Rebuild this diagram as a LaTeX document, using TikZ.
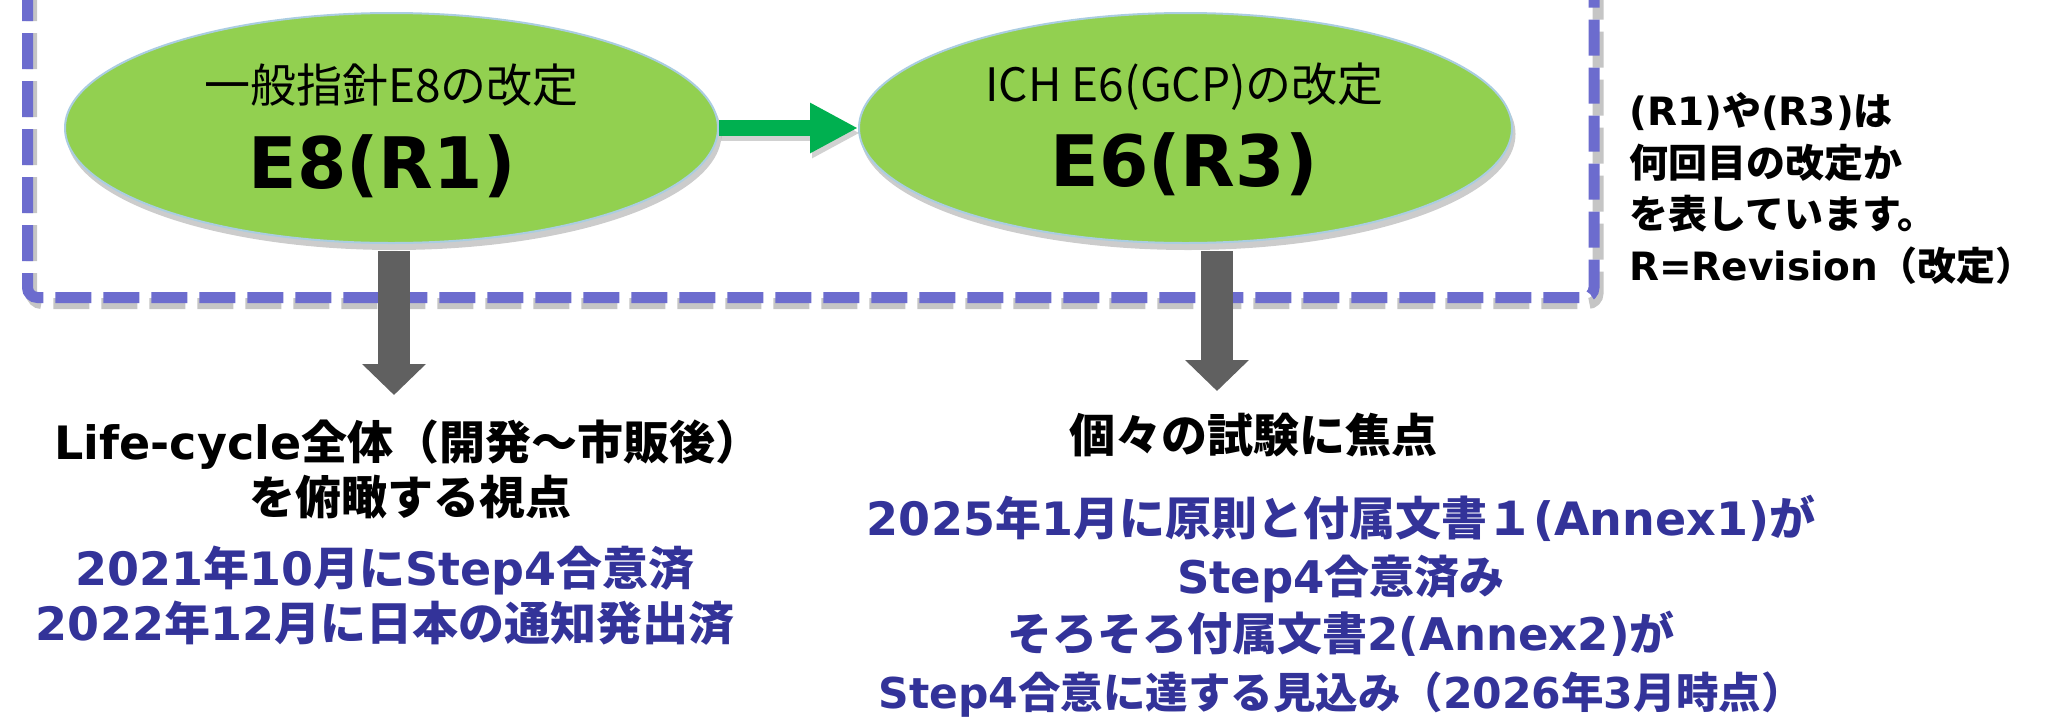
\documentclass[tikz,border=0pt]{standalone}
\usepackage{fontspec}
\setmainfont{Noto Sans CJK JP}
\newfontfamily\dvs{DejaVu Sans}
\usetikzlibrary{shapes.geometric,arrows.meta,calc}
\definecolor{boxblue}{RGB}{108,108,206}
\definecolor{elgreen}{RGB}{146,208,80}
\definecolor{elline}{RGB}{170,205,225}
\definecolor{arrgreen}{RGB}{0,176,80}
\definecolor{arrgray}{RGB}{96,96,96}
\definecolor{txtblue}{RGB}{51,51,153}
\begin{document}
\begin{tikzpicture}[x=1pt,y=-1pt,
  ovalbox/.style={ellipse, fill=elgreen, draw=elline, line width=2pt,
    minimum width=653pt, minimum height=230pt, inner sep=0pt},
  ovalshadow/.style={ellipse, fill=black, opacity=.2, draw=none,
    minimum width=655pt, minimum height=232pt, inner sep=0pt},
  frame/.style={line width=11pt, dash pattern=on 36pt off 12pt, rounded corners=10pt},
  lbl/.style={anchor=base, inner sep=0pt},
  thin/.style={lbl, font=\fontsize{46}{55}\selectfont},
  big/.style={lbl, font=\bfseries\dvs\fontsize{71}{85}\selectfont},
  blk/.style={lbl, font=\bfseries\fontsize{46}{55}\selectfont},
  blu/.style={blk, text=txtblue},
  note/.style={anchor=base west, inner sep=0pt, font=\bfseries\fontsize{39}{47}\selectfont},
  greenarrow/.style={arrgreen, line width=16pt, -{Triangle[length=48pt,width=47pt]}},
  grayarrow/.style={arrgray, line width=32pt, -{Triangle[length=31pt,width=62pt]}}
]
\useasboundingbox (0,0) rectangle (2048,716);
\fill[white] (0,0) rectangle (2048,716);

% dashed frame with shadow
\draw[frame, gray, opacity=.45] (31.5,-15) -- (31.5,303.5) -- (1598,303.5) -- (1598,-15);
\draw[frame, boxblue] (27.5,-15) -- (27.5,297.5) -- (1594,297.5) -- (1594,-15);

% ellipses
\node[ovalshadow] (e8sh) at (394,134) {};
\node[ovalshadow] (e6sh) at (1188,134) {};
\node[ovalbox] (e8) at (391.5,128) {};
\node[ovalbox] (e6) at (1185.5,128) {};

% arrows
\draw[greenarrow, draw=black, opacity=.18] ($(e8.east)+(2,5)$) -- ($(e6.west)+(2,5)$);
\draw[greenarrow] (e8.east) -- (e6.west);
\draw[grayarrow] ($(e8.south)+(2.5,7)$) -- ($(e8.south)+(2.5,151)$);
\draw[grayarrow] ($(e6.south)+(31.5,7)$) -- ($(e6.south)+(31.5,147)$);

% ellipse labels
\node[thin] (t8a) at (391.5,102) {一般指針E8の改定};
\node[big] (t8b) at (382,188) {E8(R1)};
\node[thin] (t6a) at (1184.5,101) {ICH E6(GCP)の改定};
\node[big] (t6b) at (1184,186) {E6(R3)};

% right note
\node[note] (n1) at (1629,125) {{\dvs (R1)}や{\dvs (R3)}は};
\node[note] (n2) at (1629,177) {何回目の改定か};
\node[note] (n3) at (1629,228) {を表しています。};
\node[note] (n4) at (1629,280) {{\dvs R=Revision}（改定）};

% left block
\node[blk] (lc1) at (408,459) {{\dvs Life-cycle}全体（開発～市販後）};
\node[blk] (lc2) at (410,514) {を俯瞰する視点};
\node[blu] (d1) at (385,585) {{\dvs 2021}年{\dvs 10}月に{\dvs Step4}合意済};
\node[blu] (d2) at (385,640) {{\dvs 2022}年{\dvs 12}月に日本の通知発出済};

% right block
\node[blk] (f0) at (1253,452) {個々の試験に焦点};
\node[blu] (r1) at (1341,535) {{\dvs 2025}年{\dvs 1}月に原則と付属文書１{\dvs (Annex1)}が};
\node[blu, font=\bfseries\fontsize{45}{54}\selectfont] (r2) at (1341,593) {{\dvs Step4}合意済み};
\node[blu, font=\bfseries\fontsize{45}{54}\selectfont] (r3) at (1341,650) {そろそろ付属文書{\dvs 2(Annex2)}が};
\node[blu, font=\bfseries\fontsize{42.5}{51}\selectfont] (r4) at (1341,708) {{\dvs Step4}合意に達する見込み（{\dvs 2026}年{\dvs 3}月時点）};
\end{tikzpicture}
\end{document}
